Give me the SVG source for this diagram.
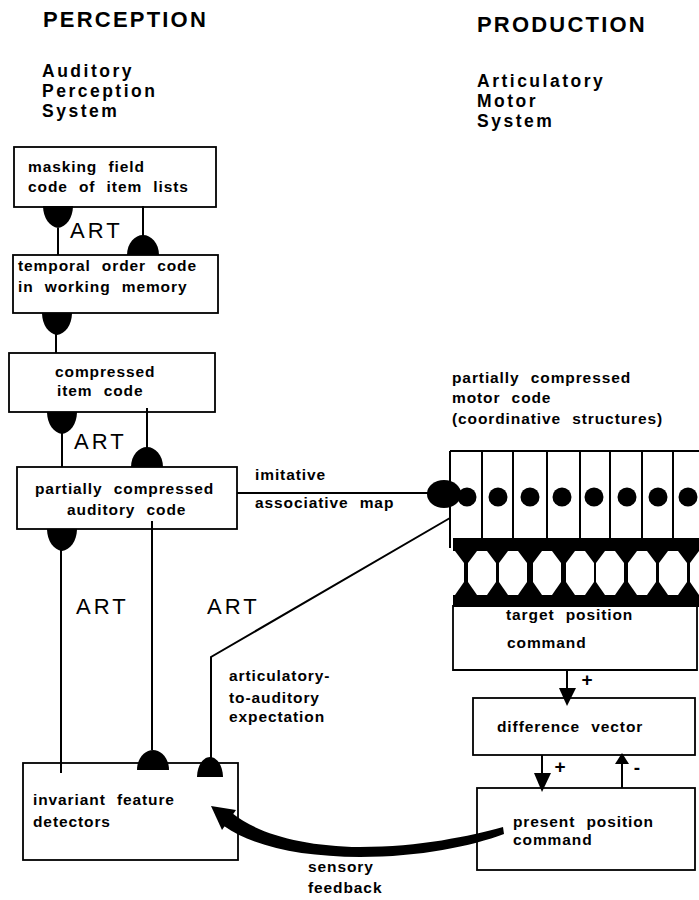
<svg xmlns="http://www.w3.org/2000/svg" width="699" height="900" viewBox="0 0 699 900">
<style>
.box{fill:none;stroke:#000;stroke-width:1.8}
.ln{fill:none;stroke:#000;stroke-width:2}
.lbl{font-family:"Liberation Sans",Arial,Helvetica,sans-serif;font-weight:bold;font-size:15.5px;letter-spacing:0.9px;word-spacing:6px;fill:#000}
.hdr{font-size:22px;letter-spacing:2.2px;word-spacing:0}
.sys{font-size:17.5px;letter-spacing:2.5px;word-spacing:0}
.art{font-weight:normal;font-size:22px;letter-spacing:3px}
.sgn{font-size:19px;letter-spacing:0}
</style>
<defs>
<path id="cup" d="M-15,0 H15 C15,12 8,21 0,22 C-8,21 -15,12 -15,0Z" fill="#000"/>
<path id="dome" d="M-16,0 C-16,-12 -8,-20 0,-20 C8,-20 16,-12 16,0Z" fill="#000"/>
<polygon id="oct" points="-5,551 5,551 14,563 14,582 5,595 -5,595 -14,582 -14,563" fill="#fff"/>
</defs>
<rect width="699" height="900" fill="#fff"/>

<g id="headers">
<text class="lbl hdr" x="43" y="27">PERCEPTION</text>
<text class="lbl sys" x="42" y="77">Auditory</text>
<text class="lbl sys" x="42" y="97">Perception</text>
<text class="lbl sys" x="42" y="117">System</text>
<text class="lbl hdr" x="477" y="32">PRODUCTION</text>
<text class="lbl sys" x="477" y="87">Articulatory</text>
<text class="lbl sys" x="477" y="107">Motor</text>
<text class="lbl sys" x="477" y="127">System</text>
</g>

<g id="connectors">
<path class="ln" d="M58,228 V255"/>
<path class="ln" d="M143,206 V236"/>
<path class="ln" d="M56,334 V353"/>
<path class="ln" d="M62,433 V467"/>
<path class="ln" d="M147,408 V448"/>
<path class="ln" d="M61,550 V773"/>
<path class="ln" d="M152,521 V750"/>
<path class="ln" d="M237,493 H432"/>
<path class="ln" d="M211,758 V657 L450,518"/>
<use href="#cup" x="58" y="206"/>
<use href="#dome" x="143" y="255"/>
<use href="#cup" x="57" y="313"/>
<use href="#cup" x="62" y="412"/>
<use href="#dome" x="147" y="467"/>
<use href="#cup" x="62" y="529"/>
<use href="#dome" x="153" y="770"/>
<path d="M197,777 C197,766 203,757 210,757 C217,757 223,766 223,777Z" fill="#000"/>
<path class="ln" d="M567,670 V690"/>
<polygon points="559,688 576,688 567,706" fill="#000"/>
<path class="ln" d="M542,755 V775"/>
<polygon points="534,773 551,773 542,792" fill="#000"/>
<path class="ln" d="M622,788 V762"/>
<polygon points="615,764 629,764 622,753" fill="#000"/>
<path d="M503,827 C470,836 420,847 360,847 C302,846 258,834 232,813 L224,826 C252,846 300,857 360,857 C420,857 472,846 504,834Z" fill="#000"/>
<polygon points="211,806 236,810 222,830" fill="#000"/>
</g>

<g id="art-labels">
<text class="lbl art" x="70" y="238">ART</text>
<text class="lbl art" x="74" y="449">ART</text>
<text class="lbl art" x="76" y="614">ART</text>
<text class="lbl art" x="207" y="614">ART</text>
<text class="lbl sgn" x="587" y="686" text-anchor="middle">+</text>
<text class="lbl sgn" x="560" y="773" text-anchor="middle">+</text>
<text class="lbl sgn" x="637" y="774" text-anchor="middle">-</text>
</g>

<g id="masking-field">
<rect class="box" x="14" y="147" width="202" height="60"/>
<text class="lbl" x="28" y="172">masking field</text>
<text class="lbl" x="28" y="192">code of item lists</text>
</g>

<g id="temporal-order">
<rect class="box" x="13" y="255" width="205" height="58"/>
<text class="lbl" x="18" y="271">temporal order code</text>
<text class="lbl" x="18" y="292">in working memory</text>
</g>

<g id="compressed-item">
<rect class="box" x="9" y="353" width="206" height="59"/>
<text class="lbl" x="55" y="377">compressed</text>
<text class="lbl" x="57" y="396">item code</text>
</g>

<g id="partial-auditory">
<rect class="box" x="17" y="467" width="220" height="62"/>
<text class="lbl" x="35" y="494">partially compressed</text>
<text class="lbl" x="67" y="515">auditory code</text>
</g>

<g id="invariant-feature">
<rect class="box" x="23" y="763" width="215" height="97"/>
<text class="lbl" x="33" y="805">invariant feature</text>
<text class="lbl" x="33" y="827">detectors</text>
</g>

<g id="edge-labels">
<text class="lbl" x="255" y="480">imitative</text>
<text class="lbl" x="255" y="508">associative map</text>
<text class="lbl" x="229" y="681">articulatory-</text>
<text class="lbl" x="229" y="703">to-auditory</text>
<text class="lbl" x="229" y="722">expectation</text>
<text class="lbl" x="308" y="872">sensory</text>
<text class="lbl" x="308" y="893">feedback</text>
</g>

<g id="motor-code">
<text class="lbl" x="452" y="383">partially compressed</text>
<text class="lbl" x="452" y="403">motor code</text>
<text class="lbl" x="452" y="424">(coordinative structures)</text>
<rect x="453" y="538" width="246" height="69" fill="#000"/>
<use href="#oct" x="450"/>
<use href="#oct" x="482"/>
<use href="#oct" x="513"/>
<use href="#oct" x="547"/>
<use href="#oct" x="580"/>
<use href="#oct" x="610"/>
<use href="#oct" x="642"/>
<use href="#oct" x="673"/>
<use href="#oct" x="704"/>
<path class="ln" d="M450,451 H699 M450,451 V548"/>
<path class="ln" stroke-width="2.6" d="M482,451 V540 M513,451 V540 M547,451 V540 M580,451 V540 M610,451 V540 M642,451 V540 M673,451 V540"/>
<ellipse cx="444" cy="494" rx="17" ry="14" fill="#000"/>
<circle cx="467" cy="497" r="9.5"/>
<circle cx="498" cy="497" r="9.5"/>
<circle cx="530" cy="497" r="9.5"/>
<circle cx="562" cy="497" r="9.5"/>
<circle cx="594" cy="497" r="9.5"/>
<circle cx="627" cy="497" r="9.5"/>
<circle cx="658" cy="497" r="9.5"/>
<circle cx="688" cy="497" r="9.5"/>
</g>

<g id="target-position">
<path class="box" d="M453,605 V670 H697 V605"/>
<text class="lbl" x="506" y="620">target position</text>
<text class="lbl" x="507" y="648">command</text>
</g>

<g id="difference-vector">
<rect class="box" x="473" y="698" width="222" height="57"/>
<text class="lbl" x="497" y="732">difference vector</text>
</g>

<g id="present-position">
<rect class="box" x="477" y="788" width="218" height="82"/>
<text class="lbl" x="513" y="827">present position</text>
<text class="lbl" x="513" y="845">command</text>
</g>
</svg>
